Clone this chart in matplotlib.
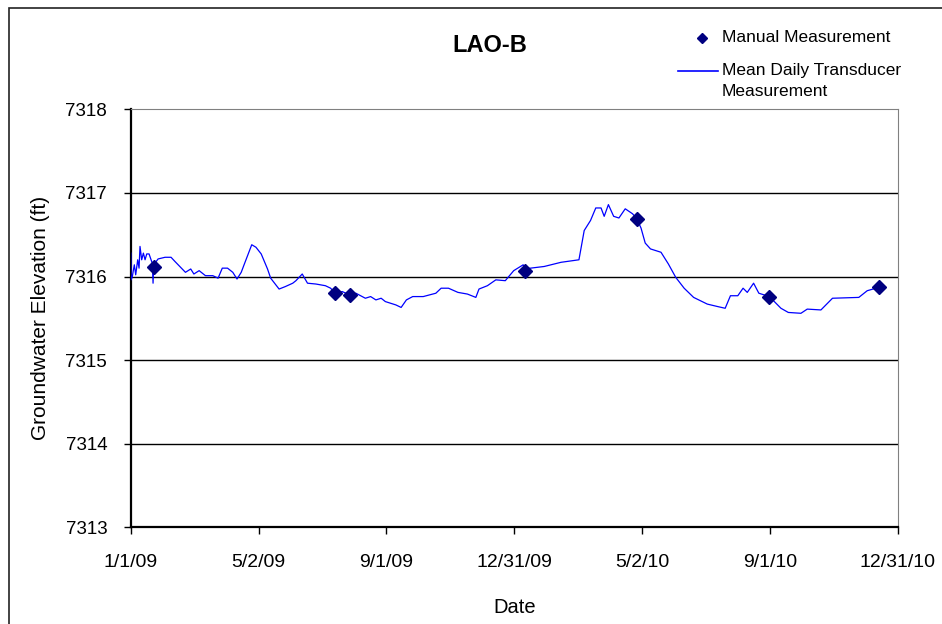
import numpy as np
import matplotlib
matplotlib.use("Agg")
import matplotlib.pyplot as plt
from matplotlib.patches import Rectangle
from matplotlib.lines import Line2D

plt.rcParams['font.family'] = ['Liberation Sans', 'DejaVu Sans']

# days since 1/1/09 and mean daily transducer elevation (ft)
transducer_days = [0, 0.3, 1.5, 3.4, 4.7, 6.6, 7.9, 8.8, 10.4, 12, 13.6, 15.2, 17.4, 19.3,
                   20.5, 21.2, 21.8, 26, 32.6, 38.3, 42, 52, 57, 60, 65, 71, 78, 83, 87,
                   92, 97, 101, 105, 108, 115, 119, 124, 130, 133, 141, 147, 154, 157, 163,
                   168, 176, 185, 190, 194, 201, 208, 214, 223, 228, 233, 238, 242, 252,
                   257, 262, 268, 278, 290, 295, 302, 311, 320, 328, 331, 339, 347, 356,
                   364, 373, 375, 380, 393, 409, 426, 431, 437, 442, 447, 450, 454, 459,
                   464, 470, 477, 481, 485, 489, 494, 504, 511, 518, 526, 535, 548, 558,
                   565, 570, 577, 582, 586, 592, 597, 607, 618, 625, 637, 643, 656, 667,
                   692, 700, 711]
transducer_elev = [7316.28, 7315.96, 7316.00, 7316.14, 7316.02, 7316.20, 7316.10, 7316.36,
                   7316.20, 7316.28, 7316.20, 7316.27, 7316.27, 7316.20, 7316.16, 7315.92,
                   7316.14, 7316.21, 7316.23, 7316.23, 7316.18, 7316.05, 7316.09, 7316.03,
                   7316.07, 7316.01, 7316.01, 7315.98, 7316.10, 7316.10, 7316.05, 7315.97,
                   7316.05, 7316.15, 7316.38, 7316.35, 7316.27, 7316.09, 7315.98, 7315.85,
                   7315.88, 7315.92, 7315.95, 7316.03, 7315.92, 7315.91, 7315.89, 7315.86,
                   7315.80, 7315.82, 7315.78, 7315.80, 7315.74, 7315.76, 7315.72, 7315.74,
                   7315.70, 7315.66, 7315.63, 7315.72, 7315.76, 7315.76, 7315.80, 7315.86,
                   7315.86, 7315.81, 7315.79, 7315.75, 7315.85, 7315.89, 7315.96, 7315.95,
                   7316.07, 7316.14, 7316.09, 7316.10, 7316.12, 7316.17, 7316.20, 7316.55,
                   7316.67, 7316.82, 7316.82, 7316.72, 7316.86, 7316.72, 7316.70, 7316.81,
                   7316.75, 7316.69, 7316.58, 7316.40, 7316.33, 7316.29, 7316.15, 7315.99,
                   7315.86, 7315.75, 7315.67, 7315.64, 7315.62, 7315.77, 7315.77, 7315.86,
                   7315.81, 7315.92, 7315.80, 7315.76, 7315.62, 7315.57, 7315.56, 7315.61,
                   7315.60, 7315.74, 7315.75, 7315.83, 7315.87]

# manual measurements
manual_days = [22, 194, 208, 375, 481, 607, 711]
manual_elev = [7316.11, 7315.80, 7315.78, 7316.07, 7316.69, 7315.76, 7315.87]

tick_days = [0, 121.5, 243, 364.5, 486, 607.5, 729]
tick_labels = ['1/1/09', '5/2/09', '9/1/09', '12/31/09', '5/2/10', '9/1/10', '12/31/10']
y_ticks = [7313, 7314, 7315, 7316, 7317, 7318]

fig = plt.figure(figsize=(9.42, 6.24), dpi=100)
ax = fig.add_axes([0.1388, 0.155, 0.953 - 0.1388, 0.8248 - 0.155])

ax.plot(transducer_days, transducer_elev, color='#0000ff', linewidth=0.9, zorder=3)
ax.plot(manual_days, manual_elev, linestyle='none', marker='D', markersize=7,
        color='#000080', zorder=4)

ax.set_xlim(0, 729)
ax.set_ylim(7313, 7318)
ax.set_xticks(tick_days)
ax.set_xticklabels(tick_labels, fontsize=14)
ax.set_yticks(y_ticks)
ax.set_yticklabels([str(v) for v in y_ticks], fontsize=13.5)
ax.tick_params(direction='out', length=5, width=1, colors='black', pad=14)
ax.tick_params(axis='y', pad=12)

for v in y_ticks[1:-1]:
    ax.axhline(v, color='black', linewidth=1, zorder=1)

ax.spines['left'].set_linewidth(1.6)
ax.spines['bottom'].set_linewidth(1.6)
ax.spines['top'].set_color('#808080')
ax.spines['right'].set_color('#808080')

ax.set_ylabel('Groundwater Elevation (ft)', fontsize=15, labelpad=11)
ax.set_xlabel('Date', fontsize=14.5, labelpad=20)

fig.text(490 / 942, 1 - 45 / 624, 'LAO-B', fontsize=17, fontweight='bold',
         ha='center', va='center')

# legend drawn by hand
fig.add_artist(Line2D([702 / 942], [1 - 38 / 624], marker='D', markersize=5,
                      color='#000080', linestyle='none'))
fig.text(722 / 942, 1 - 38 / 624, 'Manual Measurement', fontsize=12.5, va='center')
fig.add_artist(Line2D([678 / 942, 718 / 942], [1 - 71 / 624, 1 - 71 / 624],
                      color='#0000ff', linewidth=1.2))
fig.text(722 / 942, 1 - 71 / 624, 'Mean Daily Transducer', fontsize=12.5, va='center')
fig.text(722 / 942, 1 - 92 / 624, 'Measurement', fontsize=12.5, va='center')

# chart area border
fig.add_artist(Rectangle((9 / 942, -0.1), 1.2, 1 - 8 / 624 + 0.1, transform=fig.transFigure,
                         fill=False, edgecolor='#222222', linewidth=1.2))

fig.savefig('out.png', dpi=100)
